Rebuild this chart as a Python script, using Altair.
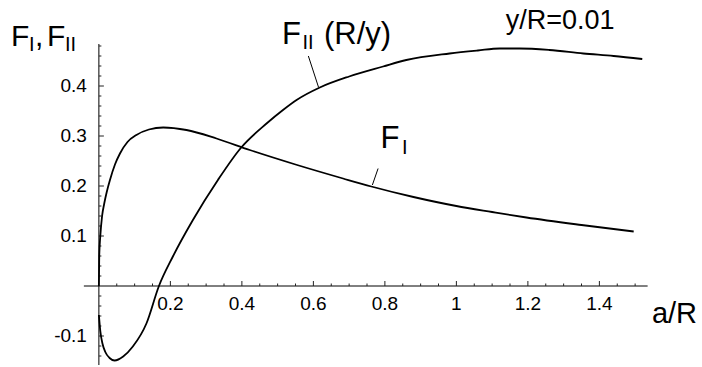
import altair as alt
import pandas as pd

FONT = "Liberation Sans"

# F_I versus a/R
fi_a = [0.0, 0.001, 0.004, 0.009, 0.015, 0.022, 0.031, 0.045, 0.059, 0.08, 0.105, 0.14, 0.18,
        0.245, 0.329, 0.422, 0.55, 0.683, 0.762, 0.88, 1.0, 1.1, 1.196, 1.35, 1.496]
fi_v = [0.0, 0.06, 0.10, 0.14, 0.165, 0.188, 0.212, 0.243, 0.265, 0.288, 0.302, 0.313, 0.317,
        0.312, 0.295, 0.272, 0.243, 0.215, 0.199, 0.178, 0.160, 0.148, 0.137, 0.122, 0.109]

# F_II (R/y) versus a/R
fii_a = [0.0, 0.004, 0.01, 0.018, 0.03, 0.044, 0.068, 0.095, 0.133, 0.168, 0.207, 0.263,
         0.333, 0.397, 0.469, 0.515, 0.553, 0.618, 0.7, 0.795, 0.86, 0.981, 1.06, 1.121,
         1.177, 1.26, 1.355, 1.44, 1.52]
fii_v = [-0.058, -0.09, -0.115, -0.132, -0.144, -0.149, -0.141, -0.121, -0.075, 0.0, 0.059,
         0.132, 0.212, 0.276, 0.325, 0.352, 0.372, 0.397, 0.419, 0.439, 0.452, 0.465, 0.471,
         0.475, 0.475, 0.472, 0.465, 0.46, 0.454]

# axis ticks
x_major = [0.2, 0.4, 0.6, 0.8, 1.0, 1.2, 1.4]
x_major_labels = ["0.2", "0.4", "0.6", "0.8", "1", "1.2", "1.4"]
x_minor = [0.05, 0.1, 0.15, 0.25, 0.3, 0.35, 0.45, 0.5, 0.55, 0.65, 0.7, 0.75, 0.85, 0.9,
           0.95, 1.05, 1.1, 1.15, 1.25, 1.3, 1.35, 1.45, 1.5]
y_major = [-0.1, 0.1, 0.2, 0.3, 0.4]
y_major_labels = ["-0.1", "0.1", "0.2", "0.3", "0.4"]
y_minor = [-0.14, -0.12, -0.08, -0.06, -0.04, -0.02, 0.02, 0.04, 0.06, 0.08, 0.12, 0.14,
           0.16, 0.18, 0.22, 0.24, 0.26, 0.28, 0.32, 0.34, 0.36, 0.38, 0.42, 0.44, 0.46, 0.48]

xs = alt.Scale(domain=[-0.05, 1.55], nice=False, zero=False)
ys = alt.Scale(domain=[-0.16, 0.5], nice=False, zero=False)


def X(field):
    return alt.X(field, type="quantitative", scale=xs, axis=None)


def Y(field):
    return alt.Y(field, type="quantitative", scale=ys, axis=None)


curves = pd.concat([
    pd.DataFrame({"a": fi_a, "v": fi_v, "s": "FI"}),
    pd.DataFrame({"a": fii_a, "v": fii_v, "s": "FII"}),
])

lines = alt.Chart(curves).mark_line(
    color="black", strokeWidth=1.8, interpolate="monotone"
).encode(x=X("a"), y=Y("v"), detail="s:N")

# axis lines crossing at the origin
x_axis = alt.Chart(pd.DataFrame({"a": [-0.042], "a2": [1.535], "v": [0.0]})).mark_rule(
    color="black", strokeWidth=1
).encode(x=X("a"), x2="a2", y=Y("v"))
y_axis = alt.Chart(pd.DataFrame({"a": [0.0], "v": [-0.158], "v2": [0.484]})).mark_rule(
    color="black", strokeWidth=1
).encode(x=X("a"), y=Y("v"), y2="v2")

# inward ticks
xmaj = pd.DataFrame({"a": x_major, "v": 0.0, "lab": x_major_labels})
xmin = pd.DataFrame({"a": x_minor, "v": 0.0})
ymaj = pd.DataFrame({"a": 0.0, "v": y_major, "lab": y_major_labels})
ymin = pd.DataFrame({"a": 0.0, "v": y_minor})

xt_major = alt.Chart(xmaj).mark_rule(color="#222", strokeWidth=1, y2Offset=-5).encode(
    x=X("a"), y=Y("v"), y2="v")
xt_minor = alt.Chart(xmin).mark_rule(color="#222", strokeWidth=1, y2Offset=-2.5).encode(
    x=X("a"), y=Y("v"), y2="v")
yt_major = alt.Chart(ymaj).mark_rule(color="#222", strokeWidth=1, x2Offset=5).encode(
    x=X("a"), x2="a", y=Y("v"))
yt_minor = alt.Chart(ymin).mark_rule(color="#222", strokeWidth=1, x2Offset=2.5).encode(
    x=X("a"), x2="a", y=Y("v"))

x_labels = alt.Chart(xmaj).mark_text(
    font=FONT, fontSize=19, align="center", baseline="alphabetic", dy=24, color="black"
).encode(x=X("a"), y=Y("v"), text="lab:N")
y_labels = alt.Chart(ymaj).mark_text(
    font=FONT, fontSize=19, align="right", baseline="middle", dx=-12, color="black"
).encode(x=X("a"), y=Y("v"), text="lab:N")

# leader lines from the curve labels
leaders = alt.Chart(pd.DataFrame({
    "a": [0.586, 0.781], "v": [0.460, 0.235],
    "a2": [0.6145, 0.765], "v2": [0.3974, 0.202],
})).mark_rule(color="black", strokeWidth=1).encode(
    x=X("a"), y=Y("v"), x2="a2", y2="v2")

# labels, with subscripts as separate smaller pieces
pieces = pd.DataFrame([
    {"t": "F", "a": -0.2459, "v": 0.480, "fs": 30},
    {"t": "I", "a": -0.1955, "v": 0.470, "fs": 20},
    {"t": ",", "a": -0.1787, "v": 0.480, "fs": 30},
    {"t": "F", "a": -0.1452, "v": 0.480, "fs": 30},
    {"t": "II", "a": -0.0948, "v": 0.470, "fs": 20},
    {"t": "F", "a": 0.5121, "v": 0.484, "fs": 31},
    {"t": "II", "a": 0.5695, "v": 0.474, "fs": 20},
    {"t": "(R/y)", "a": 0.6297, "v": 0.484, "fs": 31},
    {"t": "F", "a": 0.7877, "v": 0.2754, "fs": 31},
    {"t": "I", "a": 0.8478, "v": 0.265, "fs": 20},
    {"t": "a/R", "a": 1.547, "v": -0.074, "fs": 29},
])
texts = alt.Chart(pieces).mark_text(
    font=FONT, align="left", baseline="alphabetic", color="black"
).encode(x=X("a"), y=Y("v"), text="t:N",
         size=alt.Size("fs:Q", scale=None, legend=None))

param_label = alt.Chart(pd.DataFrame({"t": ["y/R=0.01"], "a": [1.290], "v": [0.5134]})).mark_text(
    font=FONT, fontSize=27, align="center", baseline="alphabetic", color="black"
).encode(x=X("a"), y=Y("v"), text="t:N")

chart = alt.layer(
    x_axis, y_axis, xt_major, xt_minor, yt_major, yt_minor, x_labels, y_labels,
    lines, leaders, texts, param_label
).properties(
    width=572, height=330,
    autosize=alt.AutoSizeParams(type="none"),
    padding={"left": 81, "top": 36, "right": 49, "bottom": 1},
    background="white",
).configure_view(stroke=None)

chart.save("out.html", embed_options={"renderer": "svg", "actions": False})
